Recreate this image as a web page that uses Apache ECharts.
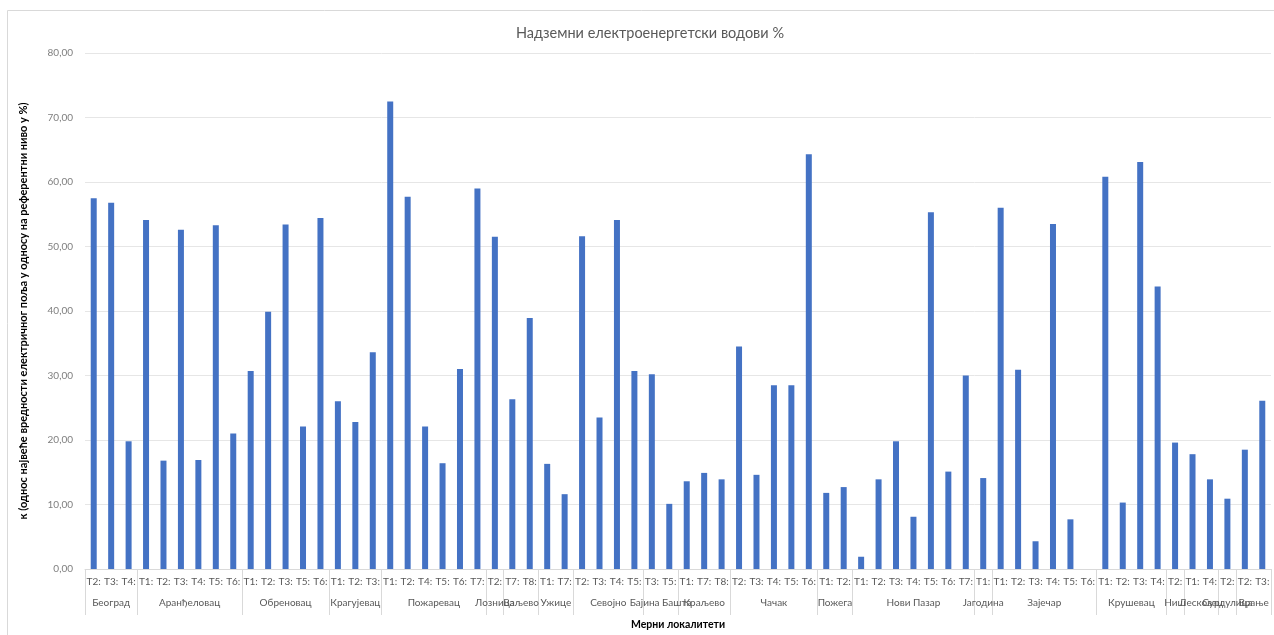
<!DOCTYPE html>
<html>
<head>
<meta charset="utf-8">
<script src="https://cdn.jsdelivr.net/npm/echarts@6/dist/echarts.min.js"></script>
<style>
  html, body { margin: 0; padding: 0; background: #fff; }
  #chart { width: 1274px; height: 635px; }
</style>
</head>
<body>
<div id="chart"></div>
<script>
// groups of measuring points (city, point labels)
var groups = [
  ['Београд', ['T2:', 'T3:', 'T4:']],
  ['Аранђеловац', ['T1:', 'T2:', 'T3:', 'T4:', 'T5:', 'T6:']],
  ['Обреновац', ['T1:', 'T2:', 'T3:', 'T5:', 'T6:']],
  ['Крагујевац', ['T1:', 'T2:', 'T3:']],
  ['Пожаревац', ['T1:', 'T2:', 'T4:', 'T5:', 'T6:', 'T7:']],
  ['Лозница', ['T2:']],
  ['Ваљево', ['T7:', 'T8:']],
  ['Ужице', ['T1:', 'T7:']],
  ['Севојно', ['T2:', 'T3:', 'T4:', 'T5:']],
  ['Бајина Башта', ['T3:', 'T5:']],
  ['Краљево', ['T1:', 'T7:', 'T8:']],
  ['Чачак', ['T2:', 'T3:', 'T4:', 'T5:', 'T6:']],
  ['Пожега', ['T1:', 'T2:']],
  ['Нови Пазар', ['T1:', 'T2:', 'T3:', 'T4:', 'T5:', 'T6:', 'T7:']],
  ['Јагодина', ['T1:']],
  ['Зајечар', ['T1:', 'T2:', 'T3:', 'T4:', 'T5:', 'T6:']],
  ['Крушевац', ['T1:', 'T2:', 'T3:', 'T4:']],
  ['Ниш', ['T2:']],
  ['Лесковац', ['T1:', 'T4:']],
  ['Сурдулица', ['T2:']],
  ['Врање', ['T2:', 'T3:']]
];

var values = [
  57.5, 56.8, 19.8,
  54.1, 16.8, 52.6, 16.9, 53.3, 21.0,
  30.7, 39.9, 53.4, 22.1, 54.4,
  26.0, 22.8, 33.6,
  72.5, 57.7, 22.1, 16.4, 31.0, 59.0,
  51.5,
  26.3, 38.9,
  16.3, 11.6,
  51.6, 23.5, 54.1, 30.7,
  30.2, 10.1,
  13.6, 14.9, 13.9,
  34.5, 14.6, 28.5, 28.5, 64.3,
  11.8, 12.7,
  1.9, 13.9, 19.8, 8.1, 55.3, 15.1, 30.0,
  14.1,
  56.0, 30.9, 4.3, 53.5, 7.7, null,
  60.8, 10.3, 63.1, 43.8,
  19.6,
  17.8, 13.9,
  10.9,
  18.5, 26.1
];

// point labels, and a half-step axis for the city names
var points = [];
var cityAxis = [];
var bounds = {};
groups.forEach(function (g) {
  var s = points.length;
  bounds[2 * s] = true;
  g[1].forEach(function (p) { points.push(p); });
  cityAxis[2 * s + g[1].length] = g[0];
});
bounds[2 * points.length] = true;
for (var k = 0; k <= 2 * points.length; k++) {
  if (cityAxis[k] === undefined) cityAxis[k] = '';
}

var font = 'Lato, "Open Sans", sans-serif';

var option = {
  animation: false,
  textStyle: { fontFamily: font },
  title: {
    text: 'Надземни електроенергетски водови %',
    left: 645,
    textAlign: 'center',
    top: 21,
    textStyle: { fontSize: 14.5, fontWeight: 'normal', color: '#595959', fontFamily: font }
  },
  graphic: [{
    type: 'rect',
    shape: { x: 7.5, y: 10.5, width: 1300, height: 700 },
    style: { fill: 'none', stroke: '#d9d9d9', lineWidth: 1 },
    silent: true
  }],
  grid: { left: 85, right: 2, top: 53, bottom: 66 },
  xAxis: [{
    type: 'category',
    data: points,
    axisLine: { lineStyle: { color: '#d9d9d9' } },
    axisTick: { show: false },
    axisLabel: { interval: 0, fontSize: 10, color: '#595959', margin: 8, fontFamily: font }
  }, {
    type: 'category',
    position: 'bottom',
    boundaryGap: false,
    data: cityAxis,
    axisLine: { show: false },
    axisTick: {
      show: true,
      length: 46,
      interval: function (i) { return !!bounds[i]; },
      lineStyle: { color: '#d9d9d9' }
    },
    axisLabel: { interval: 0, fontSize: 10, color: '#595959', margin: 29, fontFamily: font },
    name: 'Мерни локалитети',
    nameLocation: 'middle',
    nameGap: 50,
    nameTextStyle: { fontSize: 10.5, fontWeight: 'bold', color: '#000', fontFamily: font }
  }],
  yAxis: {
    type: 'value',
    min: 0,
    max: 80,
    interval: 10,
    axisLine: { show: false },
    axisTick: { show: false },
    splitLine: { lineStyle: { color: '#e6e6e6' } },
    axisLabel: {
      fontSize: 10, color: '#7f7f7f', margin: 12, fontFamily: font,
      formatter: function (v) { return v.toFixed(2).replace('.', ','); }
    },
    name: 'к (однос највеће вредности електричног поља у односу на референтни ниво у %)',
    nameLocation: 'middle',
    nameGap: 56,
    nameRotate: 90,
    nameTextStyle: { fontSize: 11, fontWeight: 'bold', color: '#000', fontFamily: font }
  },
  series: [{
    type: 'bar',
    data: values,
    barWidth: 6,
    itemStyle: { color: '#4472C4' }
  }]
};

var chart = echarts.init(document.getElementById('chart'));
chart.setOption(option);
</script>
</body>
</html>
